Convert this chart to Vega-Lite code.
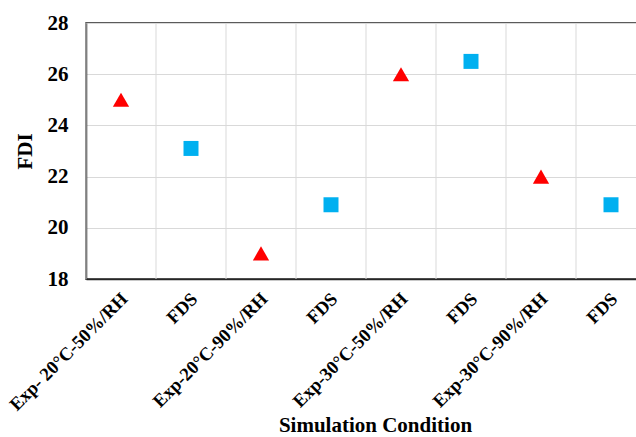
{
  "$schema": "https://vega.github.io/schema/vega-lite/v6.json",
  "autosize": "none",
  "padding": {"left": 86, "top": 23, "right": 0, "bottom": 158},
  "width": 560,
  "height": 256,
  "background": "white",
  "config": {
    "font": "Liberation Serif",
    "view": {"stroke": "#262626", "strokeWidth": 1.5}
  },
  "data": {
    "values": [
      {"condition": "Exp- 20°C-50%/RH", "type": "Exp", "FDI": 25.0},
      {"condition": "FDS 1", "type": "FDS", "FDI": 23.1},
      {"condition": "Exp-20°C-90%/RH", "type": "Exp", "FDI": 19.0},
      {"condition": "FDS 2", "type": "FDS", "FDI": 20.9},
      {"condition": "Exp-30°C-50%/RH", "type": "Exp", "FDI": 26.0},
      {"condition": "FDS 3", "type": "FDS", "FDI": 26.5},
      {"condition": "Exp-30°C-90%/RH", "type": "Exp", "FDI": 22.0},
      {"condition": "FDS 4", "type": "FDS", "FDI": 20.9}
    ]
  },
  "encoding": {
    "x": {
      "field": "condition",
      "type": "nominal",
      "sort": null,
      "title": "Simulation Condition",
      "axis": {
        "ticks": false,
        "grid": false,
        "domainColor": "#262626",
        "domainWidth": 1.5,
        "labelAngle": -45,
        "labelFont": "Liberation Serif",
        "labelFontWeight": "bold",
        "labelFontSize": 18.5,
        "labelColor": "black",
        "labelPadding": 10,
        "labelOffset": -3,
        "labelExpr": "indexof(datum.value, 'FDS') == 0 ? 'FDS' : datum.value",
        "titleFont": "Liberation Serif",
        "titleFontWeight": "bold",
        "titleFontSize": 21,
        "titleColor": "black",
        "titleBaseline": "top",
        "titleY": 135,
        "titleX": 289
      }
    }
  },
  "layer": [
    {
      "mark": {"type": "rule", "color": "#d9d9d9", "strokeWidth": 1},
      "encoding": {
        "x": {"field": "condition", "type": "nominal", "sort": null, "bandPosition": 0}
      }
    },
    {
      "mark": {"type": "point", "filled": true, "opacity": 1},
      "encoding": {
        "y": {
          "field": "FDI",
          "type": "quantitative",
          "scale": {"domain": [18, 28], "nice": false, "zero": false},
          "title": "FDI",
          "axis": {
            "values": [18, 20, 22, 24, 26, 28],
            "ticks": false,
            "grid": true,
            "gridColor": "#d9d9d9",
            "gridWidth": 1,
            "domainColor": "#262626",
            "domainWidth": 1.5,
            "labelFont": "Liberation Serif",
            "labelFontWeight": "bold",
            "labelFontSize": 21,
            "labelColor": "black",
            "labelPadding": 18,
            "titleFont": "Liberation Serif",
            "titleFontWeight": "bold",
            "titleFontSize": 21,
            "titleColor": "black",
            "titlePadding": 12
          }
        },
        "shape": {
          "field": "type",
          "type": "nominal",
          "scale": {"domain": ["Exp", "FDS"], "range": ["triangle-up", "square"]},
          "legend": null
        },
        "size": {
          "field": "type",
          "type": "nominal",
          "scale": {"domain": ["Exp", "FDS"], "range": [265, 225]},
          "legend": null
        },
        "color": {
          "field": "type",
          "type": "nominal",
          "scale": {"domain": ["Exp", "FDS"], "range": ["#ff0000", "#00b0f0"]},
          "legend": null
        }
      }
    }
  ]
}
